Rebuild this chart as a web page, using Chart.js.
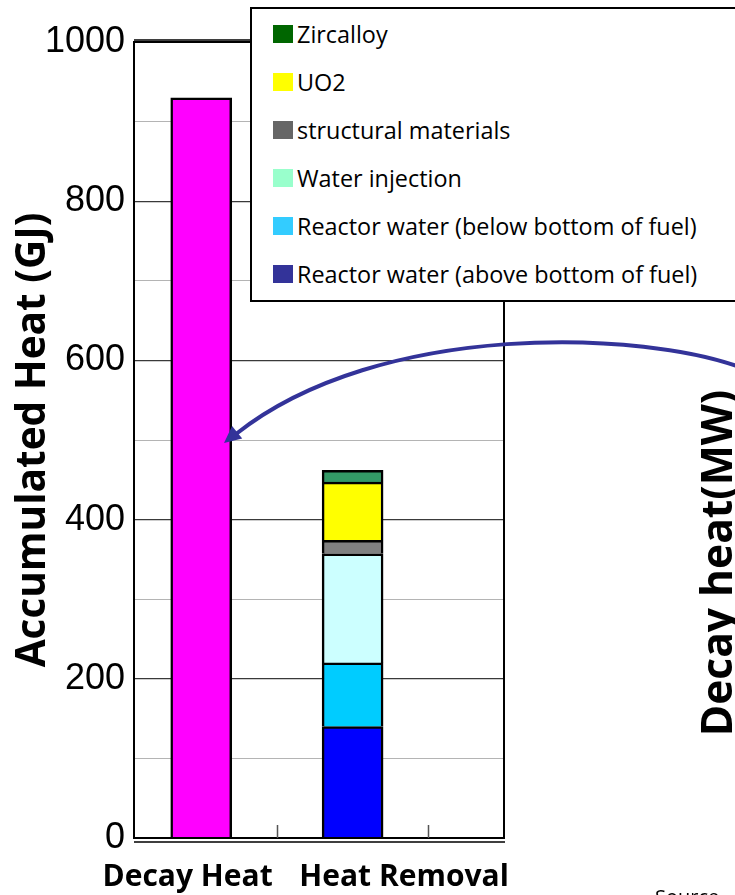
<!DOCTYPE html>
<html>
<head>
<meta charset="utf-8">
<script src="https://cdn.jsdelivr.net/npm/chart.js@4.4.1/dist/chart.umd.min.js"></script>
<style>
  html, body { margin: 0; padding: 0; background: #fff; width: 735px; height: 895px; overflow: hidden; }
  #wrap { position: relative; width: 735px; height: 895px; overflow: hidden; }
  canvas { position: absolute; left: 0; top: 0; }
  #legend { position: absolute; left: 250px; top: 7px; width: 520px; height: 295px; box-sizing: border-box;
            border: 2px solid #000; background: #fff; font-family: "Open Sans", sans-serif; font-size: 23.4px; color: #000; }
  .row { position: absolute; left: 21px; height: 30px; display: flex; align-items: center; white-space: nowrap; }
  .sw { width: 20px; height: 18px; margin-right: 4px; flex: none; }
  #rtitle { position: absolute; font-family: "Open Sans", sans-serif; font-weight: bold; font-size: 42.5px; line-height: 44px;
            white-space: nowrap; width: 400px; text-align: center; transform: rotate(-90deg); }
  #source { position: absolute; left: 655px; top: 883px; font-family: "Open Sans", sans-serif; font-size: 20px; color: #000; }
</style>
</head>
<body>
<div id="wrap">
  <canvas id="c" width="735" height="895"></canvas>
  <div id="legend"></div>
  <div id="rtitle">Decay heat(MW)</div>
  <div id="source">Source</div>
</div>
<script>
// ---- data ----
const categories = ['Decay Heat', 'Heat Removal'];
const decayHeatValue = [930];
const componentNames = [
  'Reactor water (above bottom of fuel)',
  'Reactor water (below bottom of fuel)',
  'Water injection',
  'structural materials',
  'UO2',
  'Zircalloy'
];
const componentValues = [140, 80, 137, 17, 73, 15];
const componentBarColors = ['#0000FF', '#00CCFF', '#CCFFFF', '#808080', '#FFFF00', '#339966'];
const componentLegendColors = ['#333399', '#33CCFF', '#99FFCC', '#666666', '#FFFF00', '#006600'];
const yTickLabels = [0, 200, 400, 600, 800, 1000];
const yTitle = 'Accumulated Heat (GJ)';

// ---- datasets ----
const datasets = [{
  label: categories[0],
  data: [{ x: 0, y: decayHeatValue[0] }],
  backgroundColor: '#FF00FF',
  borderColor: '#000',
  borderWidth: 2.5,
  stack: 's'
}];
componentNames.forEach((n, i) => {
  datasets.push({
    label: n,
    data: [{ x: 1, y: componentValues[i] }],
    backgroundColor: componentBarColors[i],
    borderColor: '#000',
    borderWidth: 2.5,
    stack: 's'
  });
});

// x label positions (relative to bar centres)
const labelPos = [-0.09, 1.34];

const framePlugin = {
  id: 'frame',
  afterDraw(chart) {
    const { ctx, chartArea: a, scales } = chart;
    ctx.save();
    ctx.strokeStyle = '#000';
    ctx.lineWidth = 2;
    ctx.strokeRect(a.left, a.top, a.right - a.left, a.bottom - a.top);
    ctx.beginPath();
    ctx.lineWidth = 1.5;
    ctx.moveTo(a.left, a.top - 2); ctx.lineTo(a.right, a.top - 2);
    ctx.moveTo(a.left, a.bottom + 4); ctx.lineTo(a.right + 1, a.bottom + 4);
    ctx.stroke();
    // inward category tick marks
    ctx.beginPath();
    ctx.strokeStyle = '#555';
    ctx.lineWidth = 1.5;
    [0.5, 1.5].forEach(v => {
      const px = Math.round(scales.x.getPixelForValue(v)) + 0.5;
      ctx.moveTo(px, a.bottom); ctx.lineTo(px, a.bottom - 13);
    });
    ctx.stroke();
    // curved arrow annotation
    ctx.strokeStyle = '#333399';
    ctx.fillStyle = '#333399';
    ctx.lineWidth = 4;
    ctx.lineCap = 'round';
    ctx.beginPath();
    ctx.moveTo(745, 369);
    ctx.bezierCurveTo(645, 330, 380, 320, 236, 434);
    ctx.stroke();
    // arrowhead
    const tip = { x: 224, y: 443 };
    const ang = Math.atan2(443 - 425, 224 - 246);
    const L = 17, W = 8;
    ctx.beginPath();
    ctx.moveTo(tip.x, tip.y);
    ctx.lineTo(tip.x - L * Math.cos(ang) + W * Math.sin(ang), tip.y - L * Math.sin(ang) - W * Math.cos(ang));
    ctx.lineTo(tip.x - L * Math.cos(ang) - W * Math.sin(ang), tip.y - L * Math.sin(ang) + W * Math.cos(ang));
    ctx.closePath();
    ctx.fill();
    ctx.restore();
  }
};

new Chart(document.getElementById('c'), {
  type: 'bar',
  data: { datasets },
  options: {
    responsive: false,
    animation: false,
    devicePixelRatio: 1,
    layout: { padding: { top: 42, right: 231, bottom: 0, left: 0 } },
    barThickness: 61,
    plugins: { legend: { display: false }, tooltip: { enabled: false } },
    scales: {
      x: {
        type: 'linear',
        offset: false,
        min: -0.444,
        max: 2.0,
        stacked: true,
        grid: { display: false, offset: false },
        border: { display: false },
        afterFit(s) { s.height = 57; },
        afterBuildTicks(s) { s.ticks = labelPos.map(v => ({ value: v })); },
        ticks: {
          autoSkip: false,
          maxRotation: 0,
          padding: 13,
          color: '#000',
          font: { family: 'Open Sans', weight: 'bold', size: 30 },
          callback: (v, i) => categories[i]
        }
      },
      y: {
        min: 0,
        max: 1000,
        stacked: true,
        afterFit(s) { s.width = 134; },
        border: { display: false },
        grid: {
          drawTicks: false,
          color: c => (c.tick && c.tick.value % 200 === 0) ? '#3a3a3a' : '#b4b4b4',
          lineWidth: c => (c.tick && c.tick.value % 200 === 0) ? 1.2 : 1
        },
        ticks: {
          stepSize: 50,
          padding: 9,
          color: '#000',
          font: { family: 'Liberation Sans', size: 36 },
          callback: v => yTickLabels.includes(v) ? String(v) : ''
        },
        title: {
          display: true,
          text: yTitle,
          color: '#000',
          padding: { top: 9, bottom: 0 },
          font: { family: 'Open Sans', weight: 'bold', size: 40.5 }
        }
      }
    }
  },
  plugins: [framePlugin]
});

// HTML legend (top-down: reversed stack order)
const leg = document.getElementById('legend');
for (let k = componentNames.length - 1, r = 0; k >= 0; k--, r++) {
  const row = document.createElement('div');
  row.className = 'row';
  row.style.top = (34 + r * 48 - 7 - 2 - 15) + 'px';
  const sw = document.createElement('div');
  sw.className = 'sw';
  sw.style.background = componentLegendColors[k];
  const tx = document.createElement('span');
  tx.textContent = componentNames[k];
  row.appendChild(sw); row.appendChild(tx);
  leg.appendChild(row);
}
// right rotated title placement (centre at x=716, y=563)
const rt = document.getElementById('rtitle');
rt.style.left = (716 - 200) + 'px';
rt.style.top = (563 - 22) + 'px';
</script>
</body>
</html>
